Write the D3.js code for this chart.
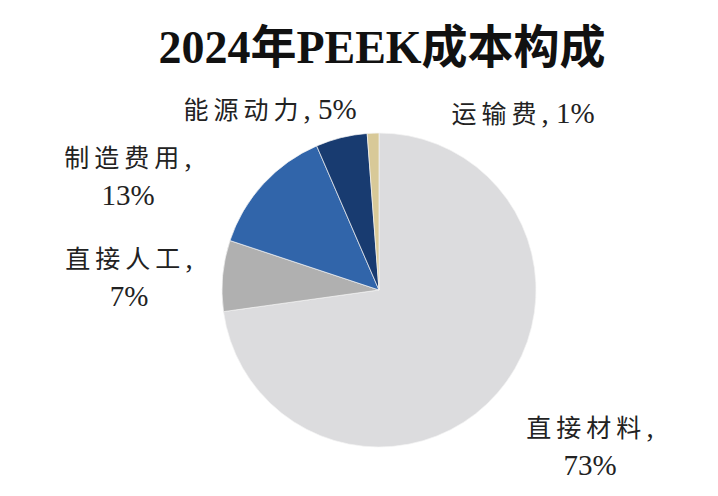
<!doctype html>
<html>
<head>
    <meta charset="utf-8">
    <script src="https://d3js.org/d3.v7.min.js"></script>
    <style>
        body { margin: 0; background: #fff; }
    </style>
</head>
<body>
    <script>
        var width = 718;
        var height = 496;

        // data (clockwise from 12 o'clock)
        var categories = ["直接材料", "直接人工", "制造费用", "能源动力", "运输费"];
        var shares = [72.8, 7.3, 13.4, 5.3, 1.2];
        var colors = ["#dcdcde", "#b0b0b0", "#3165aa", "#183b70", "#d8c998"];
        var title = "2024年PEEK成本构成";

        var cx = 379, cy = 290, radius = 157;

        // label spots: [centre x, baseline of first line, two lines?]
        var labelSpots = [
            [590, 437, true],
            [129, 268, true],
            [128, 167, true],
            [270, 119, false],
            [523, 123, false]
        ];

        var svg = d3.select("body")
                    .append("svg")
                    .attr("width", width)
                    .attr("height", height);

        var pie = d3.pie().sort(null).value(function(d){ return d.v; });
        var arc = d3.arc().innerRadius(0).outerRadius(radius);

        var rows = categories.map(function(c, i){ return {name: c, v: shares[i], color: colors[i]}; });
        var total = d3.sum(shares);
        var pct = function(v){ return Math.round(v / total * 100) + "%"; };

        var g = svg.append("g").attr("transform", "translate(" + cx + "," + cy + ")");

        g.selectAll("path")
         .data(pie(rows))
         .enter()
         .append("path")
         .attr("d", arc)
         .attr("fill", function(d){ return d.data.color; })
         .attr("stroke", "#f4f4f4")
         .attr("stroke-width", 0.7);

        // title
        svg.append("text")
           .attr("x", 382)
           .attr("y", 63)
           .attr("text-anchor", "middle")
           .style("font-family", "'Liberation Serif', 'Noto Sans CJK SC', serif")
           .style("font-weight", "bold")
           .style("font-size", "46px")
           .style("fill", "#111")
           .text(title);

        // labels
        rows.forEach(function(r, i){
            var s = labelSpots[i];
            var t = svg.append("text")
                       .attr("x", s[0])
                       .attr("y", s[1])
                       .attr("text-anchor", "middle")
                       .style("fill", "#222");
            t.append("tspan")
             .style("font-family", "'Noto Sans CJK SC', sans-serif")
             .style("font-size", "25px")
             .style("letter-spacing", "5px")
             .text(r.name);
            if (s[2]) {
                t.append("tspan")
                 .style("font-family", "'Liberation Serif', serif")
                 .style("font-size", "29px")
                 .text(",");
                svg.append("text")
                   .attr("x", s[0])
                   .attr("y", s[1] + 38)
                   .attr("text-anchor", "middle")
                   .style("font-family", "'Liberation Serif', serif")
                   .style("font-size", "29px")
                   .style("fill", "#222")
                   .text(pct(r.v));
            } else {
                t.append("tspan")
                 .style("font-family", "'Liberation Serif', serif")
                 .style("font-size", "29px")
                 .text(", " + pct(r.v));
            }
        });
    </script>
</body>
</html>
